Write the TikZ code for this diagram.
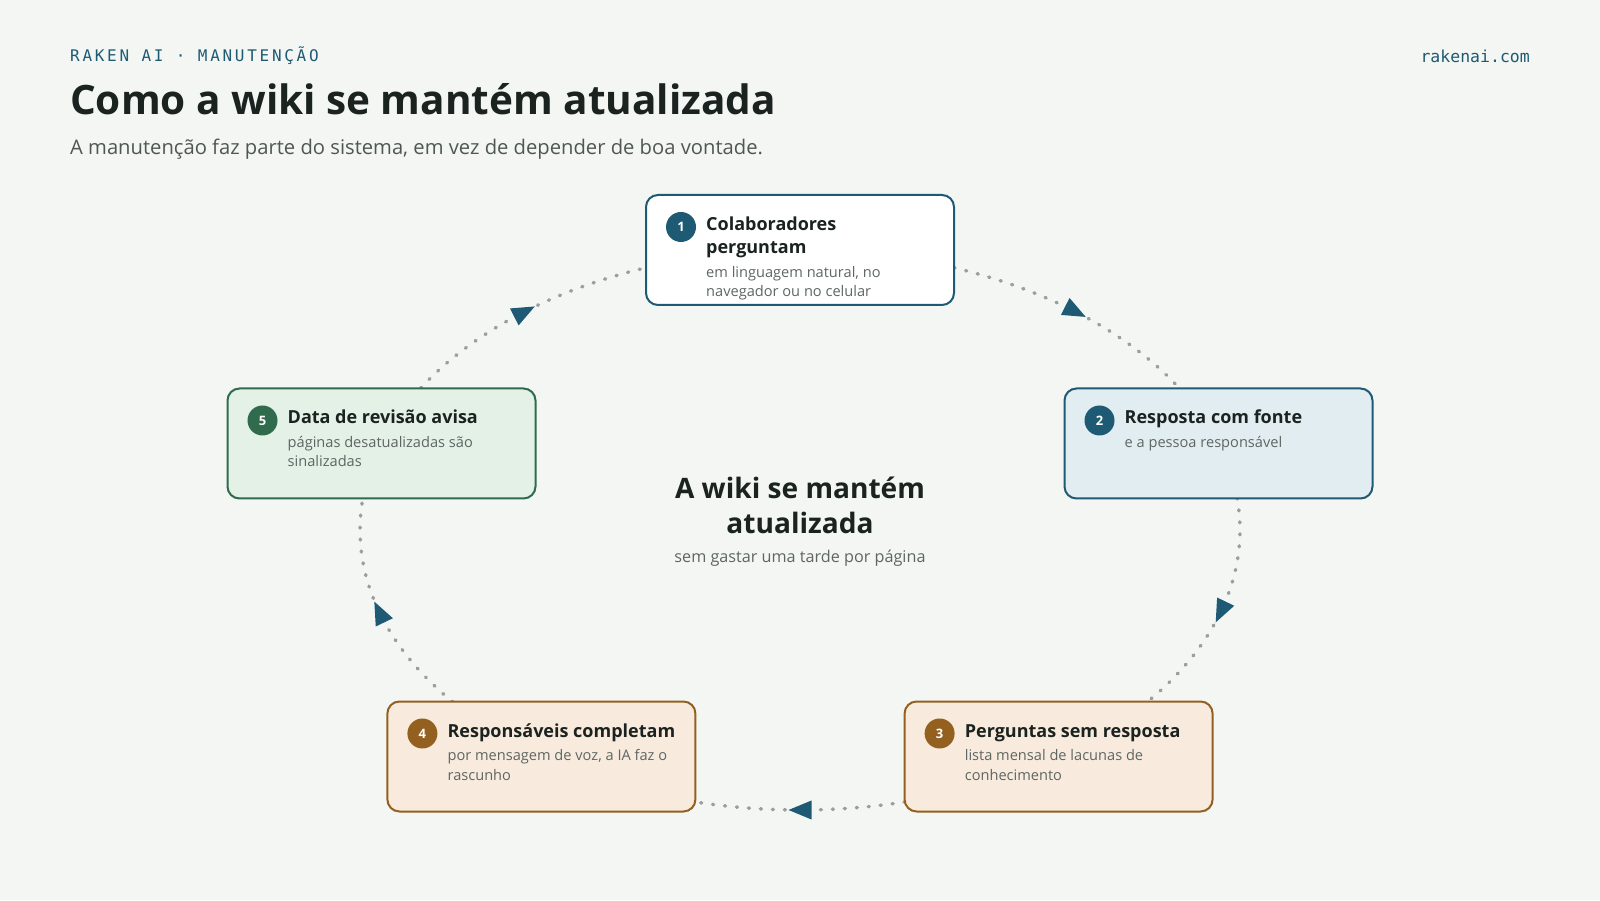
\documentclass[tikz,border=0pt]{standalone}
\usepackage{fontspec}
\setmainfont{Open Sans}
\newfontfamily\kickerfont[LetterSpace=17]{DejaVu Sans Mono}
\newfontfamily\urlfont{DejaVu Sans Mono}
\usetikzlibrary{arrows.meta,decorations.markings,calc}
\definecolor{bgc}{HTML}{F3F6F3}
\definecolor{cteal}{HTML}{1E5A73}
\definecolor{cbrown}{HTML}{93601F}
\definecolor{cgreen}{HTML}{2F6B4C}
\definecolor{fblue}{HTML}{E2EDF2}
\definecolor{fpeach}{HTML}{F8EBDD}
\definecolor{fgreen}{HTML}{E3F1E6}
\definecolor{dotgray}{HTML}{9C9E9C}
\definecolor{ink}{HTML}{1B2321}
\definecolor{subgray}{HTML}{4F5755}
\definecolor{boxgray}{HTML}{5E6663}
\begin{document}
\begin{tikzpicture}[x=1pt,y=1pt,
  stepbox/.style={draw, line width=2pt, rounded corners=12pt, minimum width=308pt, minimum height=110pt, inner sep=0pt},
  numdot/.style={circle, minimum size=30pt, inner sep=0pt, text=white, font=\bfseries\fontsize{13}{13}\selectfont},
  stitle/.style={anchor=base west, inner sep=0pt, text=ink, font=\bfseries\fontsize{18}{18}\selectfont},
  ssub/.style={anchor=base west, inner sep=0pt, text=boxgray, font=\fontsize{14.6}{14.6}\selectfont},
  flow/.style={draw=dotgray, line width=3.5pt, line cap=round, dash pattern=on 1pt off 11pt,
    postaction={decorate}, decoration={markings, mark=at position 0.5 with {\fill[cteal] (11.5pt,0pt) -- (-11.5pt,9.5pt) -- (-11.5pt,-9.5pt) -- cycle;}}}
]
\useasboundingbox (0,0) rectangle (1600,900);
\fill[bgc] (0,0) rectangle (1600,900);

% header
\node[anchor=base west, inner sep=0pt, text=cteal, font=\kickerfont\fontsize{16}{16}\selectfont] (kicker) at (70,838) {RAKEN AI · MANUTENÇÃO};
\node[anchor=base west, inner sep=0pt, text=ink, font=\bfseries\fontsize{40.5}{40.5}\selectfont] (title) at (70,785) {Como a wiki se mantém atualizada};
\node[anchor=base west, inner sep=0pt, text=subgray, font=\fontsize{20.2}{20.2}\selectfont] (subtitle) at (70,745) {A manutenção faz parte do sistema, em vez de depender de boa vontade.};
\node[anchor=base east, inner sep=0pt, text=cteal, font=\urlfont\fontsize{16.5}{16.5}\selectfont] (url) at (1530,837) {rakenai.com};

% cycle geometry
\coordinate (ctr) at (800,370);
\path (ctr) ++(69.51:440pt and 280pt) coordinate (s12);
\path (ctr) ++(6.56:440pt and 280pt) coordinate (s23);
\path (ctr) ++(-76.20:440pt and 280pt) coordinate (s34);
\path (ctr) ++(-142.10:440pt and 280pt) coordinate (s45);
\path (ctr) ++(149.53:440pt and 280pt) coordinate (s51);

\draw[flow] (s12) arc[start angle=69.51, end angle=30.47, x radius=440pt, y radius=280pt];
\draw[flow] (s23) arc[start angle=6.56, end angle=-37.90, x radius=440pt, y radius=280pt];
\draw[flow] (s34) arc[start angle=-76.20, end angle=-103.80, x radius=440pt, y radius=280pt];
\draw[flow] (s45) arc[start angle=-142.10, end angle=-186.56, x radius=440pt, y radius=280pt];
\draw[flow] (s51) arc[start angle=149.53, end angle=110.49, x radius=440pt, y radius=280pt];

% boxes
\node[stepbox, draw=cteal, fill=white] (b1) at (800,650) {};
\node[stepbox, draw=cteal, fill=fblue] (b2) at (1218.5,456.5) {};
\node[stepbox, draw=cbrown, fill=fpeach] (b3) at (1058.6,143.5) {};
\node[stepbox, draw=cbrown, fill=fpeach] (b4) at (541.4,143.5) {};
\node[stepbox, draw=cgreen, fill=fgreen] (b5) at (381.5,456.5) {};

% box 1
\node[numdot, fill=cteal] (n1) at ($(b1.north west)+(36,-33)$) {1};
\node[stitle] (t1a) at ($(b1.north west)+(61,-36.5)$) {Colaboradores};
\node[stitle] (t1b) at ($(b1.north west)+(61,-60)$) {perguntam};
\node[ssub] (s1a) at ($(b1.north west)+(61,-83.5)$) {em linguagem natural, no};
\node[ssub] (s1b) at ($(b1.north west)+(61,-103)$) {navegador ou no celular};
% box 2
\node[numdot, fill=cteal] (n2) at ($(b2.north west)+(36,-33)$) {2};
\node[stitle] (t2a) at ($(b2.north west)+(61,-36.5)$) {Resposta com fonte};
\node[ssub] (s2a) at ($(b2.north west)+(61,-60)$) {e a pessoa responsável};
% box 3
\node[numdot, fill=cbrown] (n3) at ($(b3.north west)+(36,-33)$) {3};
\node[stitle] (t3a) at ($(b3.north west)+(61,-36.5)$) {Perguntas sem resposta};
\node[ssub] (s3a) at ($(b3.north west)+(61,-60)$) {lista mensal de lacunas de};
\node[ssub] (s3b) at ($(b3.north west)+(61,-79.5)$) {conhecimento};
% box 4
\node[numdot, fill=cbrown] (n4) at ($(b4.north west)+(36,-33)$) {4};
\node[stitle] (t4a) at ($(b4.north west)+(61,-36.5)$) {Responsáveis completam};
\node[ssub] (s4a) at ($(b4.north west)+(61,-60)$) {por mensagem de voz, a IA faz o};
\node[ssub] (s4b) at ($(b4.north west)+(61,-79.5)$) {rascunho};
% box 5
\node[numdot, fill=cgreen] (n5) at ($(b5.north west)+(36,-33)$) {5};
\node[stitle] (t5a) at ($(b5.north west)+(61,-36.5)$) {Data de revisão avisa};
\node[ssub] (s5a) at ($(b5.north west)+(61,-60)$) {páginas desatualizadas são};
\node[ssub] (s5b) at ($(b5.north west)+(61,-79.5)$) {sinalizadas};

% centre
\node[anchor=base, inner sep=0pt, text=ink, font=\bfseries\fontsize{28.1}{28.1}\selectfont] (c1) at (800,401) {A wiki se mantém};
\node[anchor=base, inner sep=0pt, text=ink, font=\bfseries\fontsize{28.1}{28.1}\selectfont] (c2) at (800,366) {atualizada};
\node[anchor=base, inner sep=0pt, text=boxgray, font=\fontsize{16.2}{16.2}\selectfont] (c3) at (800,337) {sem gastar uma tarde por página};
\end{tikzpicture}
\end{document}
